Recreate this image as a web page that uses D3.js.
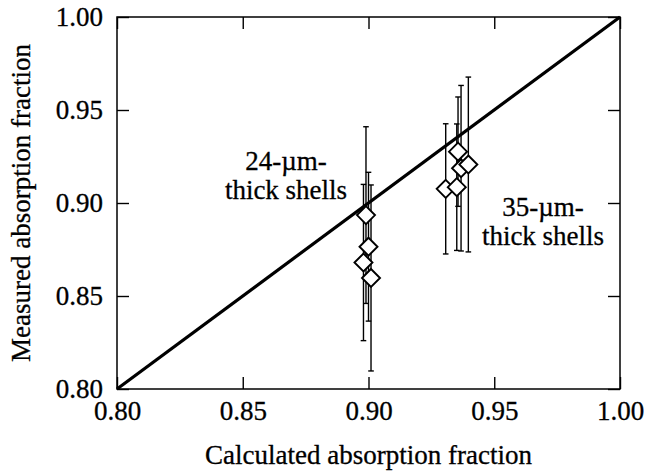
<!DOCTYPE html>
<html>
<head>
<meta charset="utf-8">
<script src="https://cdn.jsdelivr.net/npm/d3@7/dist/d3.min.js"></script>
<style>
  html, body { margin: 0; padding: 0; background: #fff; }
  svg { display: block; }
</style>
</head>
<body>
<svg id="chart" width="655" height="472"></svg>
<script>
// Absorption fraction: measured vs calculated, two shell thicknesses
const tickValues = [0.80, 0.85, 0.90, 0.95, 1.00];

// 24-µm-thick shells
const thinCalc = [0.899, 0.900, 0.898, 0.901];
const thinMeas = [0.8935, 0.8765, 0.868, 0.8597];
const thinErr  = [0.0475, 0.040, 0.042, 0.050];

// 35-µm-thick shells
const thickCalc = [0.9307, 0.9351, 0.9356, 0.9368, 0.9397];
const thickMeas = [0.9076, 0.9085, 0.9276, 0.9187, 0.9207];
const thickErr  = [0.035, 0.034, 0.0294, 0.0445, 0.047];

// reference line: measured = calculated
const lineX = [0.80, 1.00];

const annotations = [
  { x: 286, y: 170, lines: ["24-\u00b5m-", "thick shells"] },
  { x: 543, y: 216, lines: ["35-\u00b5m-", "thick shells"] }
];

const SERIF = "'Liberation Serif', 'Times New Roman', Times, 'DejaVu Serif', serif";
const fontSize = 27;

const svg = d3.select("#chart");
const margin = { left: 117, right: 35, top: 17, bottom: 83 };
const W = 655, H = 472;
const x = d3.scaleLinear().domain([0.80, 1.00]).range([margin.left, W - margin.right]);
const y = d3.scaleLinear().domain([0.80, 1.00]).range([H - margin.bottom, margin.top]);

function serifText(sel) {
  return sel.attr("fill", "#000")
    .attr("stroke", "#000").attr("stroke-width", 0.3)
    .style("font-family", SERIF)
    .style("font-size", fontSize + "px");
}

function styleAxis(g) {
  g.attr("font-family", null).attr("font-size", null);
  g.select(".domain").remove();
  g.selectAll(".tick line").attr("stroke", "#000").attr("stroke-width", 1.4);
  g.selectAll(".tick text").call(serifText);
}
const fmt = d3.format(".2f");

// bottom / top
svg.append("g").attr("transform", `translate(0,${y(0.80)})`)
  .call(d3.axisBottom(x).tickValues(tickValues).tickFormat(fmt).tickSize(-12).tickPadding(12))
  .call(styleAxis);
svg.append("g").attr("transform", `translate(0,${y(1.00)})`)
  .call(d3.axisTop(x).tickValues(tickValues).tickFormat("").tickSize(-12))
  .call(styleAxis);
// left / right
svg.append("g").attr("transform", `translate(${x(0.80)},0)`)
  .call(d3.axisLeft(y).tickValues(tickValues).tickFormat(fmt).tickSize(-12).tickPadding(14))
  .call(styleAxis);
svg.append("g").attr("transform", `translate(${x(1.00)},0)`)
  .call(d3.axisRight(y).tickValues(tickValues).tickFormat("").tickSize(-12))
  .call(styleAxis);

// frame
svg.append("rect")
  .attr("x", x(0.80)).attr("y", y(1.00))
  .attr("width", x(1.00) - x(0.80)).attr("height", y(0.80) - y(1.00))
  .attr("fill", "none").attr("stroke", "#000").attr("stroke-width", 1.5);

// diagonal
svg.append("path")
  .datum(lineX)
  .attr("d", d3.line().x(d => x(d)).y(d => y(d)))
  .attr("stroke", "#000").attr("stroke-width", 3.2).attr("fill", "none");

const points = thinCalc.map((c, i) => ({ c, m: thinMeas[i], e: thinErr[i] }))
  .concat(thickCalc.map((c, i) => ({ c, m: thickMeas[i], e: thickErr[i] })));

// error bars
const cap = 2.8;
const eb = svg.append("g").attr("stroke", "#000").attr("stroke-width", 1.4);
points.forEach(p => {
  const px = x(p.c), y0 = y(p.m - p.e), y1 = y(p.m + p.e);
  eb.append("line").attr("x1", px).attr("x2", px).attr("y1", y0).attr("y2", y1);
  eb.append("line").attr("x1", px - cap).attr("x2", px + cap).attr("y1", y0).attr("y2", y0);
  eb.append("line").attr("x1", px - cap).attr("x2", px + cap).attr("y1", y1).attr("y2", y1);
});

// diamond markers
const r = 9;
svg.append("g").selectAll("path").data(points).join("path")
  .attr("d", p => {
    const px = x(p.c), py = y(p.m);
    return `M${px},${py - r}L${px + r},${py}L${px},${py + r}L${px - r},${py}Z`;
  })
  .attr("fill", "#fff").attr("stroke", "#000").attr("stroke-width", 1.9);

// annotations
annotations.forEach(a => {
  const t = svg.append("text").attr("text-anchor", "middle").call(serifText);
  a.lines.forEach((s, i) => {
    t.append("tspan").attr("x", a.x).attr("y", a.y + i * 29).text(s);
  });
});

// axis titles
svg.append("text")
  .attr("x", (x(0.80) + x(1.00)) / 2).attr("y", 464)
  .attr("text-anchor", "middle").call(serifText)
  .text("Calculated absorption fraction");
svg.append("text")
  .attr("transform", `translate(30,${(y(0.80) + y(1.00)) / 2}) rotate(-90)`)
  .attr("text-anchor", "middle").call(serifText)
  .text("Measured absorption fraction");
</script>
</body>
</html>
